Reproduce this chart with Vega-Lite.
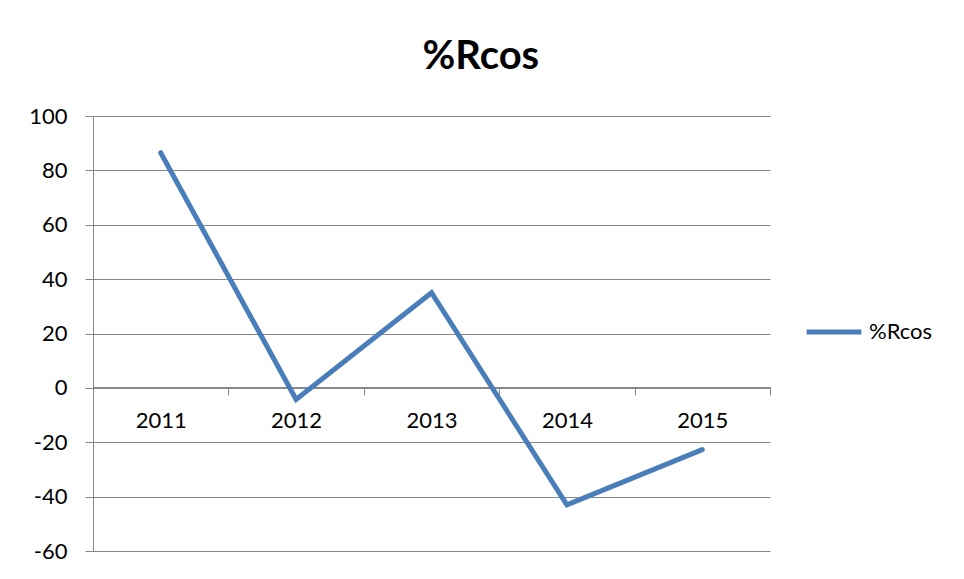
{
  "$schema": "https://vega.github.io/schema/vega-lite/v6.json",
  "width": 677,
  "height": 435,
  "autosize": {"type": "none"},
  "padding": {"left": 93, "top": 116, "right": 194, "bottom": 28},
  "background": "white",
  "title": {
    "text": "%Rcos",
    "frame": "bounds",
    "anchor": "middle",
    "fontSize": 40,
    "font": "Lato",
    "fontWeight": "bold",
    "color": "#000000",
    "offset": 28
  },
  "data": {
    "values": [
      {"year": "2011", "value": 86.5, "series": "%Rcos"},
      {"year": "2012", "value": -4.3, "series": "%Rcos"},
      {"year": "2013", "value": 35, "series": "%Rcos"},
      {"year": "2014", "value": -43, "series": "%Rcos"},
      {"year": "2015", "value": -22.7, "series": "%Rcos"}
    ]
  },
  "mark": {"type": "line", "strokeWidth": 5, "strokeCap": "round", "strokeJoin": "miter"},
  "encoding": {
    "x": {
      "field": "year",
      "type": "ordinal",
      "scale": {"paddingInner": 0, "paddingOuter": 0},
      "axis": {
        "title": null,
        "labelAngle": 0,
        "offset": -164,
        "tickBand": "extent",
        "tickSize": 8,
        "tickColor": "#878787",
        "domainColor": "#878787",
        "labelFontSize": 22,
        "labelFont": "Lato",
        "labelColor": "#000000",
        "labelPadding": 15,
        "grid": false
      }
    },
    "y": {
      "field": "value",
      "type": "quantitative",
      "scale": {"domain": [-60, 100], "nice": false, "zero": false},
      "axis": {
        "title": null,
        "values": [-60, -40, -20, 0, 20, 40, 60, 80, 100],
        "labelExpr": "replace(datum.label, '\u2212', '-')",
        "tickSize": 8,
        "tickColor": "#878787",
        "domainColor": "#878787",
        "gridColor": "#878787",
        "labelFontSize": 22,
        "labelFont": "Lato",
        "labelColor": "#000000",
        "labelPadding": 18
      }
    },
    "color": {
      "field": "series",
      "type": "nominal",
      "scale": {"range": ["#4A7EBB"]},
      "legend": {
        "title": null,
        "orient": "none",
        "legendX": 711,
        "legendY": 186,
        "symbolType": "stroke",
        "symbolSize": 3000,
        "symbolStrokeWidth": 5,
        "labelFontSize": 22,
        "labelFont": "Lato",
        "labelColor": "#000000",
        "labelOffset": 5
      }
    }
  },
  "config": {
    "view": {"stroke": null}
  }
}
